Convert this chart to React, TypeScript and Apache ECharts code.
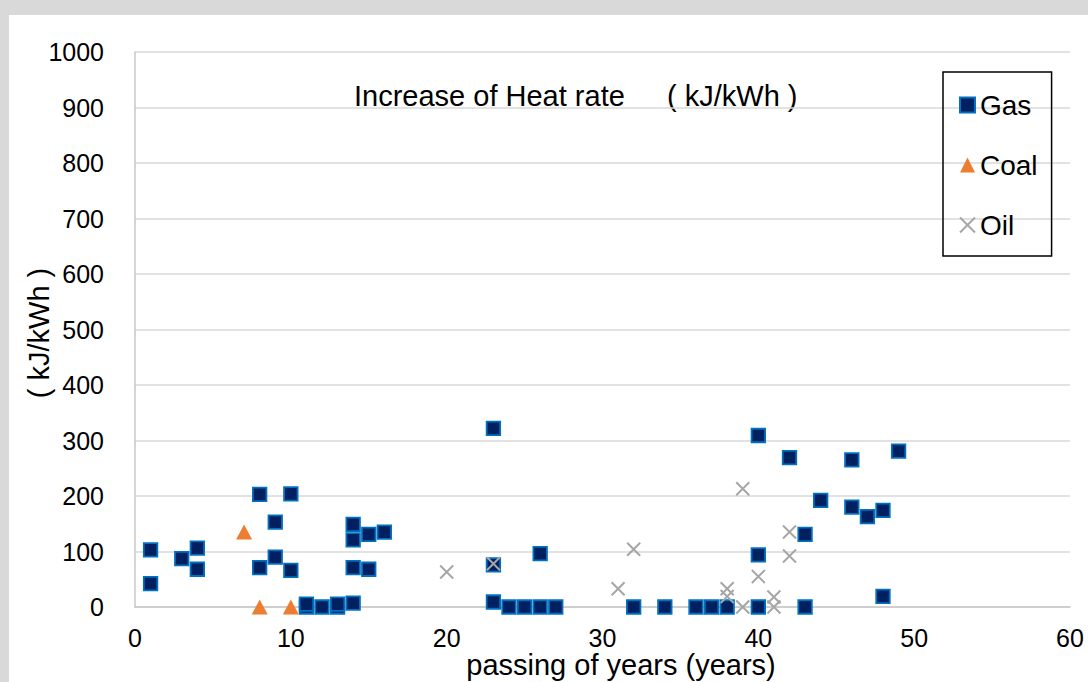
import React, { useEffect, useRef } from "react";
import * as echarts from "echarts";

const xTickValues = [0, 10, 20, 30, 40, 50, 60];
const yTickValues = [0, 100, 200, 300, 400, 500, 600, 700, 800, 900, 1000];

const gasData: number[][] = [
  [1, 103], [1, 42], [3, 87], [4, 106], [4, 68], [8, 203], [8, 71], [9, 153], [9, 90],
  [10, 204], [10, 66], [11, 0], [11, 5], [12, 0], [13, 0], [13, 5], [14, 7], [14, 149],
  [14, 121], [14, 71], [15, 131], [15, 68], [16, 135], [23, 322], [23, 76], [23, 9],
  [24, 0], [25, 0], [26, 0], [26, 96], [27, 0], [32, 0], [34, 0], [36, 0], [37, 0], [38, 0],
  [40, 309], [40, 94], [40, 0], [42, 269], [43, 131], [43, 0], [44, 192], [46, 265],
  [46, 180], [47, 163], [48, 174], [48, 19], [49, 281],
];
const coalData: number[][] = [[7, 135], [8, 0], [10, 0]];
const oilData: number[][] = [
  [20, 63], [23, 78], [31, 33], [32, 104], [38, 33], [38, 19], [39, 213], [39, 0],
  [40, 55], [41, 18], [41, 0], [42, 135], [42, 92],
];

const seriesNames = ["Gas", "Coal", "Oil"];
const titleMain = "Increase of Heat rate";
const titleUnit = "( kJ/kWh )";
const xAxisName = "passing of years (years)";
const yAxisName = "( kJ/kWh )";

const FONT = '"Liberation Sans", Arial, sans-serif';
const CROSS = "path://M0,0L10,10M0,10L10,0";

export default function App() {
  const ref = useRef<HTMLDivElement>(null);
  useEffect(() => {
    const chart = echarts.init(ref.current!, null, { renderer: "svg" });
    const textStyle = (text: string, align: string) => ({
      text,
      fontSize: 29,
      fontFamily: FONT,
      fill: "#000",
      textAlign: align,
      textVerticalAlign: "middle",
      align,
      verticalAlign: "middle",
    });
    chart.setOption({
      animation: false,
      backgroundColor: "#ffffff",
      grid: { left: 126, right: 18, top: 37, bottom: 75 },
      xAxis: {
        type: "value",
        min: xTickValues[0],
        max: xTickValues[xTickValues.length - 1],
        interval: 10,
        axisLine: { show: true, lineStyle: { color: "#c8c8c8", width: 1.5 } },
        axisTick: { show: false },
        splitLine: { show: false },
        axisLabel: { fontSize: 25, fontFamily: FONT, color: "#000", margin: 18, formatter: (v: number) => String(v) },
      },
      yAxis: {
        type: "value",
        min: yTickValues[0],
        max: yTickValues[yTickValues.length - 1],
        interval: 100,
        axisLine: { show: true, lineStyle: { color: "#c8c8c8", width: 1.5 } },
        axisTick: { show: false },
        splitLine: { show: true, lineStyle: { color: "#d9d9d9", width: 1.5 } },
        axisLabel: { fontSize: 25, fontFamily: FONT, color: "#000", margin: 31, formatter: (v: number) => String(v) },
      },
      legend: {
        orient: "vertical",
        left: 934,
        top: 57,
        borderColor: "#000",
        borderWidth: 1.5,
        padding: [19, 14, 17, 16],
        itemGap: 32,
        itemWidth: 15,
        itemHeight: 15,
        textStyle: { fontSize: 28, fontFamily: FONT, color: "#000" },
        data: seriesNames,
      },
      graphic: [
        { type: "text", x: 345, y: 81, style: textStyle(titleMain, "left") },
        { type: "text", x: 658, y: 81, style: textStyle(titleUnit, "left") },
        { type: "text", x: 612, y: 650, style: textStyle(xAxisName, "center") },
        { type: "text", x: 30, y: 318, rotation: Math.PI / 2, style: textStyle(yAxisName, "center") },
      ],
      series: [
        {
          name: seriesNames[0],
          type: "scatter",
          symbol: "rect",
          symbolSize: 13.5,
          itemStyle: { color: "#002060", borderColor: "#0070C0", borderWidth: 1.8, opacity: 1 },
          data: gasData,
        },
        {
          name: seriesNames[1],
          type: "scatter",
          symbol: "triangle",
          symbolSize: [16, 15],
          itemStyle: { color: "#ED7D31", opacity: 1 },
          data: coalData,
        },
        {
          name: seriesNames[2],
          type: "scatter",
          symbol: CROSS,
          symbolSize: 13,
          itemStyle: { color: "transparent", borderColor: "#A6A6A6", borderWidth: 2, opacity: 1 },
          data: oilData,
        },
      ],
    });
    return () => chart.dispose();
  }, []);
  return (
    <div style={{ position: "fixed", left: 0, top: 0, width: 1088, height: 682, background: "#d9d9d9", overflow: "hidden" }}>
      <div ref={ref} style={{ position: "absolute", left: 9, top: 15, width: 1079, height: 667 }} />
    </div>
  );
}
